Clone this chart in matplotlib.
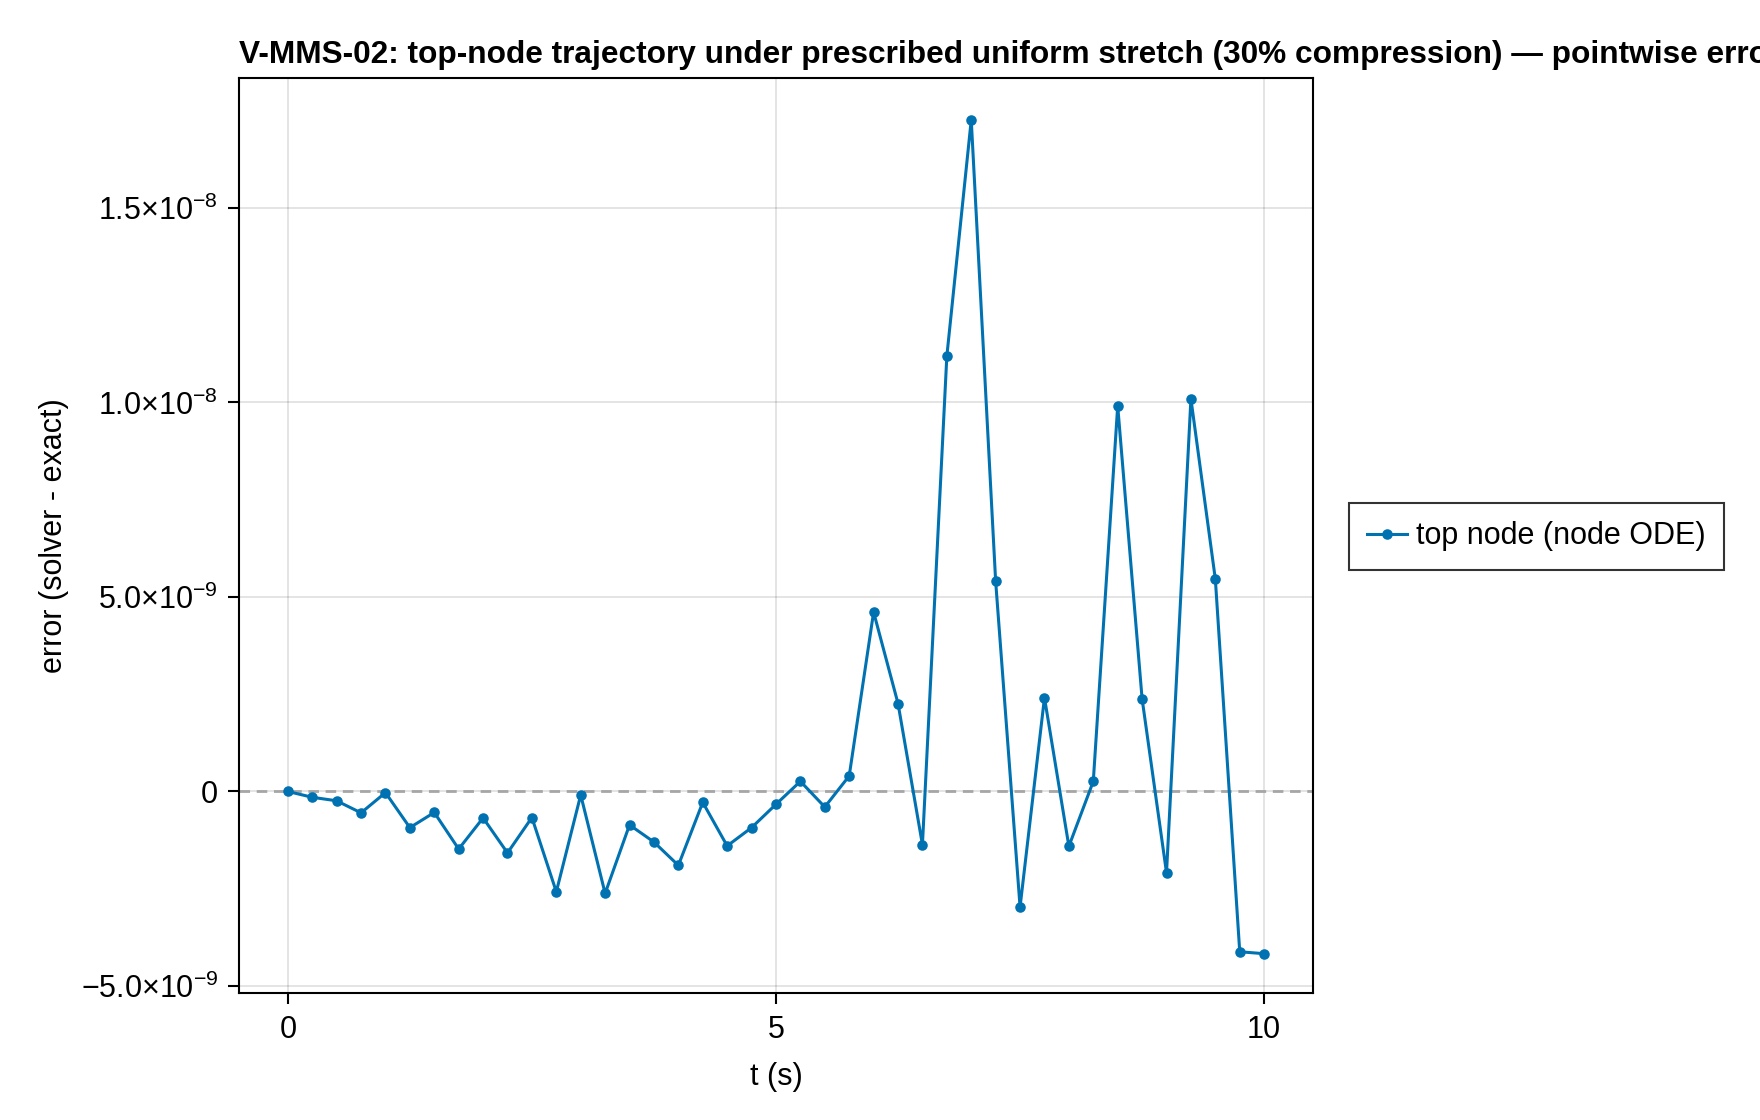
import matplotlib
matplotlib.use("Agg")
import matplotlib.pyplot as plt
from matplotlib.ticker import FixedLocator, FixedFormatter

plt.rcParams['font.family'] = ['Liberation Sans', 'DejaVu Sans']
plt.rcParams['mathtext.fontset'] = 'custom'
plt.rcParams['mathtext.rm'] = 'Liberation Sans'
plt.rcParams['mathtext.it'] = 'Liberation Sans'
plt.rcParams['mathtext.bf'] = 'Liberation Sans:bold'

# ---- data ----
t = [0.0, 0.25, 0.5, 0.75, 1.0, 1.25, 1.5, 1.75, 2.0, 2.25, 2.5, 2.75, 3.0, 3.25,
     3.5, 3.75, 4.0, 4.25, 4.5, 4.75, 5.0, 5.25, 5.5, 5.75, 6.0, 6.25, 6.5, 6.75,
     7.0, 7.25, 7.5, 7.75, 8.0, 8.25, 8.5, 8.75, 9.0, 9.25, 9.5, 9.75, 10.0]
err_e9 = [0.0, -0.15, -0.24, -0.55, -0.03, -0.93, -0.54, -1.48, -0.68, -1.58, -0.67,
          -2.58, -0.09, -2.62, -0.86, -1.30, -1.90, -0.28, -1.40, -0.93, -0.33, 0.26,
          -0.40, 0.40, 4.61, 2.26, -1.37, 11.19, 17.26, 5.40, -2.97, 2.41, -1.41, 0.26,
          9.91, 2.38, -2.09, 10.09, 5.46, -4.12, -4.17]
err = [v * 1e-9 for v in err_e9]

xticks = [0, 5, 10]
xtick_labels = ["0", "5", "10"]
yticks = [-5e-9, 0.0, 5e-9, 1e-8, 1.5e-8]
ytick_labels = [r"$\mathregular{-5.0{\times}10^{-9}}$", "0",
                r"$\mathregular{5.0{\times}10^{-9}}$",
                r"$\mathregular{1.0{\times}10^{-8}}$",
                r"$\mathregular{1.5{\times}10^{-8}}$"]

title = ("V-MMS-02: top-node trajectory under prescribed uniform stretch "
         "(30% compression) \u2014 pointwise error")
xlabel = "t (s)"
ylabel = "error (solver - exact)"
series_label = "top node (node ODE)"

blue = "#0072B2"
FS = 22

fig = plt.figure(figsize=(17.6, 11.2), dpi=100)
ax = fig.add_axes([0.1358, 0.1134, 0.6102, 0.8174])

ax.axhline(0.0, color="#a6a6a6", lw=2.0, linestyle=(0, (3.8, 2.4)), zorder=2)
ax.plot(t, err, color=blue, lw=2.2, marker="o", markersize=7.6,
        markeredgewidth=0, label=series_label, zorder=3)

ax.set_xlim(-0.5, 10.5)
ax.set_ylim(-5.18e-9, 18.35e-9)

ax.xaxis.set_major_locator(FixedLocator(xticks))
ax.xaxis.set_major_formatter(FixedFormatter(xtick_labels))
ax.yaxis.set_major_locator(FixedLocator(yticks))
ax.yaxis.set_major_formatter(FixedFormatter(ytick_labels))

ax.grid(True, color="black", alpha=0.11, lw=1.4, zorder=0)
ax.set_axisbelow(True)
for s in ax.spines.values():
    s.set_linewidth(1.5)
    s.set_color("black")
ax.tick_params(axis="both", direction="out", length=8, width=1.5,
               labelsize=FS, top=False, right=False)
ax.tick_params(axis="x", pad=8)
ax.tick_params(axis="y", pad=7)

ax.set_xlabel(xlabel, fontsize=FS, labelpad=12)
ax.set_ylabel(ylabel, fontsize=FS, labelpad=8)

fig.text(0.1358, 0.9437, title, fontsize=22.8, fontweight="bold",
         ha="left", va="baseline")

leg = ax.legend(loc="center left", bbox_to_anchor=(0.7665, 0.521),
                bbox_transform=fig.transFigure, borderaxespad=0,
                fontsize=FS, frameon=True, fancybox=False,
                handlelength=1.3, handletextpad=0.3, borderpad=0.6)
leg.get_frame().set_edgecolor("black")
leg.get_frame().set_linewidth(1.5)

fig.savefig("out.png", dpi=100)
